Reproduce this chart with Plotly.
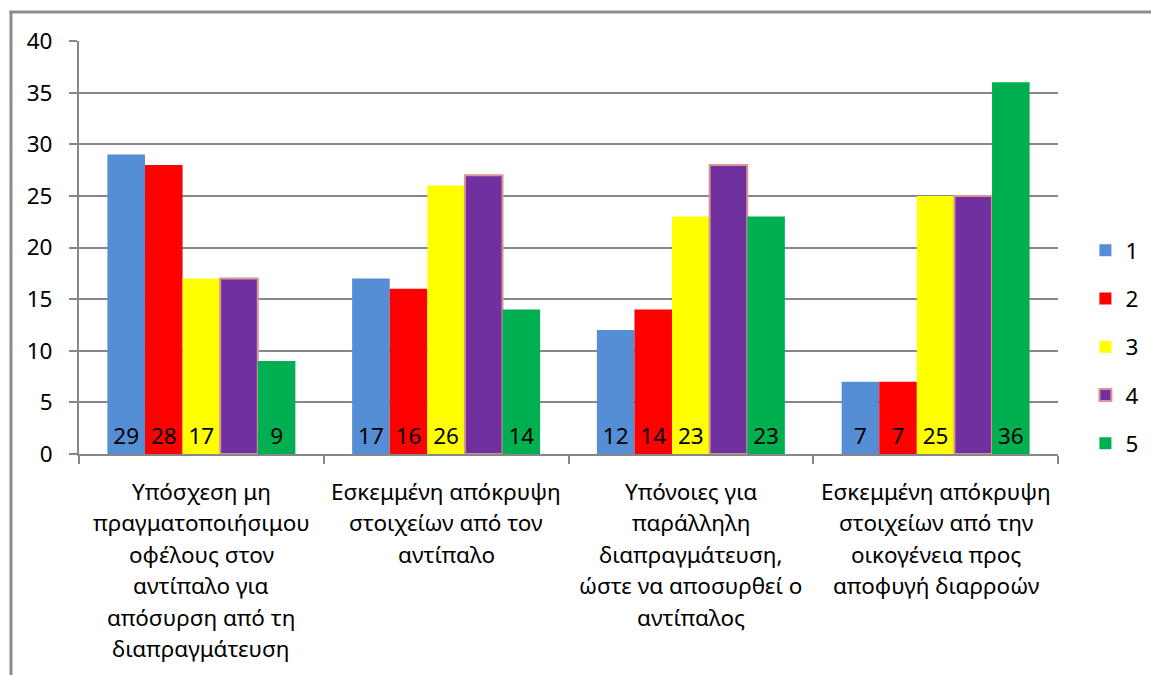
import plotly.graph_objects as go

# Categories (each wrapped into display lines)
categories = [
    ["Υπόσχεση μη", "πραγματοποιήσιμου", "οφέλους στον", "αντίπαλο για", "απόσυρση από τη", "διαπραγμάτευση"],
    ["Εσκεμμένη απόκρυψη", "στοιχείων από τον", "αντίπαλο"],
    ["Υπόνοιες για", "παράλληλη", "διαπραγμάτευση,", "ώστε να αποσυρθεί ο", "αντίπαλος"],
    ["Εσκεμμένη απόκρυψη", "στοιχείων από την", "οικογένεια προς", "αποφυγή διαρροών"],
]

series_names = ["1", "2", "3", "4", "5"]
s1 = [29, 17, 12, 7]
s2 = [28, 16, 14, 7]
s3 = [17, 26, 23, 25]
s4 = [17, 27, 28, 25]
s5 = [9, 14, 23, 36]
series_values = [s1, s2, s3, s4, s5]
show_labels = [True, True, True, False, True]

colors = ["#558ED5", "#FF0000", "#FFFF00", "#7030A0", "#00B050"]
outline = [None, None, None, "#D99694", None]

y_ticks = [0, 5, 10, 15, 20, 25, 30, 35, 40]

FONT = "Noto Sans"
FS = 22.5
GRID = "#878787"

# Category keys on the x axis (full label text, drawn separately below)
cat_keys = [" ".join(lines) for lines in categories]

fig = go.Figure()
for i, name in enumerate(series_names):
    vals = series_values[i]
    line = dict(width=2, color=outline[i]) if outline[i] else dict(width=0)
    fig.add_trace(go.Bar(
        x=cat_keys,
        y=vals,
        name=name,
        legendgroup=name,
        marker=dict(color=colors[i], line=line),
        text=[str(v) for v in vals] if show_labels[i] else None,
        textposition="inside" if show_labels[i] else "none",
        insidetextanchor="start",
        textangle=0,
        constraintext="none",
        textfont=dict(family=FONT, size=FS, color="black"),
        cliponaxis=False,
    ))

# Multi-line category labels under the axis
for key, lines in zip(cat_keys, categories):
    for li, txt in enumerate(lines):
        fig.add_annotation(
            x=key, xref="x", y=0, yref="paper",
            text=txt, showarrow=False,
            xanchor="center", yanchor="middle",
            yshift=-(37 + 31.5 * li),
            font=dict(family=FONT, size=FS, color="black"),
        )

# Outer chart frame (left and top edges)
frame = "#8C8C8C"
fig.add_shape(type="line", xref="paper", yref="paper",
              xsizemode="pixel", ysizemode="pixel", xanchor=0, yanchor=0,
              x0=-68, x1=-68, y0=443, y1=-240,
              line=dict(color=frame, width=3))
fig.add_shape(type="line", xref="paper", yref="paper",
              xsizemode="pixel", ysizemode="pixel", xanchor=0, yanchor=0,
              x0=-69.5, x1=1100, y0=442, y1=442,
              line=dict(color=frame, width=3))

fig.update_layout(
    width=1151, height=675,
    margin=dict(l=79, r=93, t=41, b=221, autoexpand=False),
    paper_bgcolor="white", plot_bgcolor="white",
    barmode="group", bargap=0.232, bargroupgap=0,
    font=dict(family=FONT, size=FS, color="black"),
    legend=dict(
        x=1.028, xanchor="left", y=0.259, yanchor="middle",
        traceorder="grouped", tracegroupgap=16,
        font=dict(family=FONT, size=FS, color="black"),
        itemwidth=30,
    ),
    xaxis=dict(
        type="category", categoryorder="array", categoryarray=cat_keys,
        showticklabels=False, showgrid=False,
        showline=True, linecolor=GRID, linewidth=2,
        ticks="outside", ticklen=8, tickcolor=GRID, tickwidth=2,
        tickson="boundaries", zeroline=False,
    ),
    yaxis=dict(
        range=[0, 40], tickvals=y_ticks,
        showgrid=True, gridcolor=GRID, gridwidth=2,
        showline=True, linecolor=GRID, linewidth=2,
        ticks="outside", ticklen=8, tickcolor=GRID, tickwidth=2,
        zeroline=False,
        tickfont=dict(family=FONT, size=FS, color="black"),
        ticklabelstandoff=12,
    ),
)

fig.write_html("out.html")
